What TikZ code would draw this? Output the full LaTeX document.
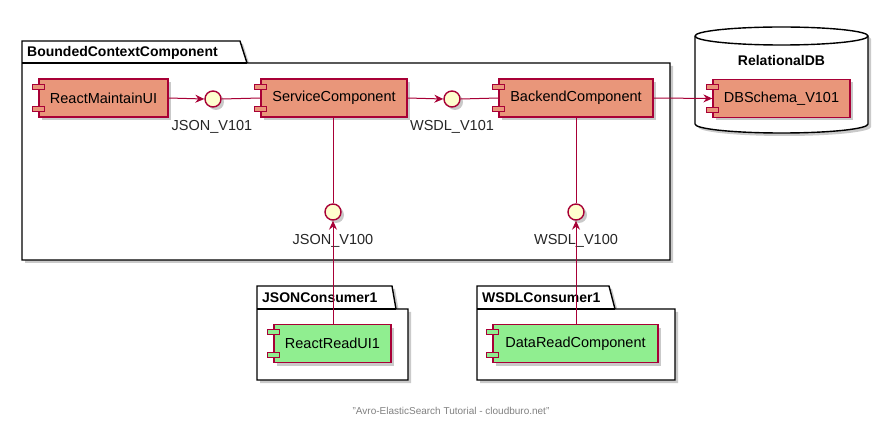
\documentclass[tikz,border=0pt]{standalone}
\usepackage{fontspec}
\setmainfont{Liberation Sans}
\usetikzlibrary{arrows.meta,shadows}
\definecolor{umlred}{HTML}{A80036}
\definecolor{compsalmon}{HTML}{E9967A}
\definecolor{compgreen}{HTML}{90EE90}
\definecolor{ifyellow}{HTML}{FEFECE}

\begin{document}
\begin{tikzpicture}[x=1pt,y=1pt,
  shad/.style={drop shadow={shadow xshift=3pt,shadow yshift=-3pt,opacity=0.35,fill=black!60}},
  comp/.style={draw=umlred, line width=1.3pt, minimum height=38pt, inner sep=0pt, font=\fontsize{14.5}{17}\selectfont, shad},
  compicon/.style={draw=umlred, line width=1.2pt},
  iface/.style={circle, draw=umlred, line width=1.4pt, fill=ifyellow, minimum size=16pt, inner sep=0pt, shad},
  iflabel/.style={font=\fontsize{14.5}{17}\selectfont, text=black!85},
  pkg/.style={draw=black, line width=1.4pt, fill=white, shad},
  pkgtitle/.style={font=\bfseries\fontsize{14}{16}\selectfont, anchor=west, inner sep=0pt},
  link/.style={draw=umlred, line width=1pt},
  uses/.style={link, -{Stealth[length=9pt,width=8pt,inset=3pt]}}]
  \useasboundingbox (0,0) rectangle (878,-430);

  % packages
  \draw[pkg] (22,-41) -- (240,-41) -- (247,-63) -- (670,-63) -- (670,-260) -- (22,-260) -- cycle;
  \draw[line width=1.4pt] (22,-63) -- (247,-63);
  \node[pkgtitle] (bcc) at (27,-53) {BoundedContextComponent};

  \draw[pkg] (257,-286) -- (392,-286) -- (396,-309) -- (408,-309) -- (408,-380) -- (257,-380) -- cycle;
  \draw[line width=1.4pt] (257,-309) -- (396,-309);
  \node[pkgtitle] (jsoncons) at (262,-298) {JSONConsumer1};

  \draw[pkg] (477,-286) -- (609,-286) -- (615,-309) -- (675,-309) -- (675,-380) -- (477,-380) -- cycle;
  \draw[line width=1.4pt] (477,-309) -- (615,-309);
  \node[pkgtitle] (wsdlcons) at (482,-298) {WSDLConsumer1};

  % database
  \draw[pkg] (695,-36) -- (695,-124) arc[start angle=180,end angle=360,x radius=86.5pt,y radius=9pt] -- (868,-36) arc[start angle=0,end angle=180,x radius=86.5pt,y radius=9pt] -- cycle;
  \draw[line width=1.4pt] (695,-36) arc[start angle=180,end angle=360,x radius=86.5pt,y radius=9pt];
  \node[font=\bfseries\fontsize{14}{16}\selectfont] (reldb) at (781.5,-60) {RelationalDB};

  % components
  \node[comp, fill=compsalmon, minimum width=129pt] (rmui) at (103.5,-98) {ReactMaintainUI};
  \node[comp, fill=compsalmon, minimum width=146pt] (svc) at (334,-98) {ServiceComponent};
  \node[comp, fill=compsalmon, minimum width=154pt] (backend) at (576,-98) {BackendComponent};
  \node[comp, fill=compsalmon, minimum width=137pt] (dbschema) at (781.5,-98.5) {DBSchema\_V101};
  \node[comp, fill=compgreen, minimum width=117pt] (rrui) at (332.5,-343.5) {ReactReadUI1};
  \node[comp, fill=compgreen, minimum width=165pt] (dread) at (575.5,-343.5) {DataReadComponent};
  \foreach \c/\f in {rmui/compsalmon,svc/compsalmon,backend/compsalmon,dbschema/compsalmon,rrui/compgreen,dread/compgreen} {
    \draw[compicon, fill=\f] ([xshift=-6pt,yshift=-6pt]\c.north west) rectangle ++(12,-5);
    \draw[compicon, fill=\f] ([xshift=-6pt,yshift=6pt]\c.south west) rectangle ++(12,5);
  }

  % interfaces
  \node[iface] (jv101) at (213,-99) {};
  \node[iface] (wv101) at (452,-99) {};
  \node[iface] (jv100) at (333,-212) {};
  \node[iface] (wv100) at (576,-212) {};
  \node[iflabel] (jv101l) at (212,-127) {JSON\_V101};
  \node[iflabel] (wv101l) at (452,-127) {WSDL\_V101};
  \node[iflabel] (jv100l) at (333,-241) {JSON\_V100};
  \node[iflabel] (wv100l) at (576,-241) {WSDL\_V100};

  % links
  \draw[uses] (rmui.east) -- (jv101.west);
  \draw[link] (jv101.east) -- (svc.west);
  \draw[uses] (svc.east) -- (wv101.west);
  \draw[link] (wv101.east) -- (backend.west);
  \draw[uses] (backend.east) -- (dbschema.west);
  \draw[link] (svc.south -| jv100) -- (jv100.north);
  \draw[link] (backend.south -| wv100) -- (wv100.north);
  \draw[uses] (rrui.north -| jv100) -- (jv100.south);
  \draw[uses] (dread.north -| wv100) -- (wv100.south);

  \node[font=\fontsize{10}{12}\selectfont, text=black!50] (footer) at (451,-411) {"Avro-ElasticSearch Tutorial - cloudburo.net"};
\end{tikzpicture}
\end{document}
